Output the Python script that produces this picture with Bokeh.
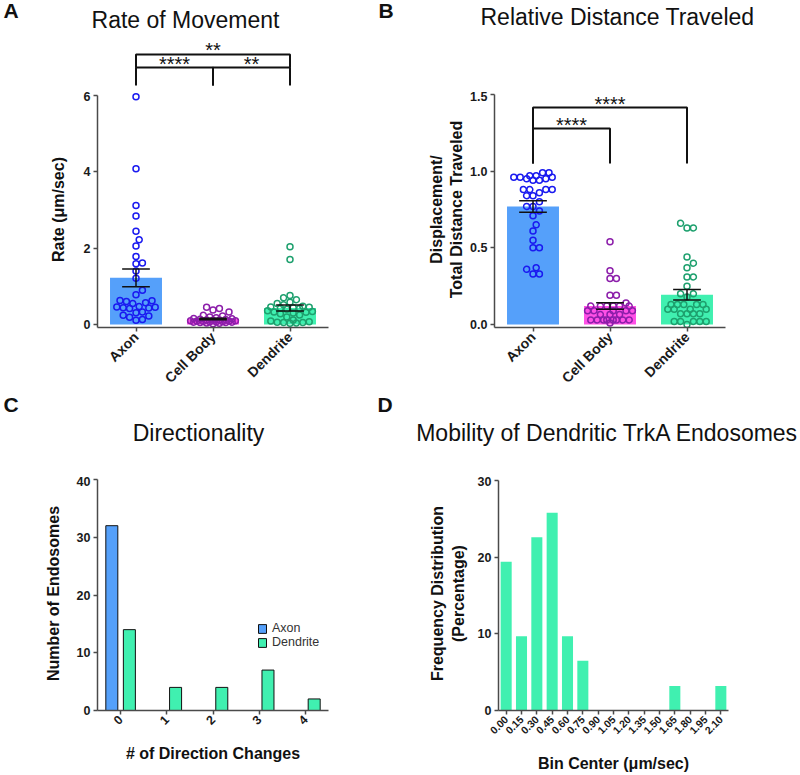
import math
import numpy as np
from bokeh.plotting import figure
from bokeh.layouts import row, column
from bokeh.models import (Range1d, FixedTicker, Label, Legend, LegendItem,
                          NumeralTickFormatter)
from bokeh.embed import file_html
from bokeh.resources import INLINE

FONT = "Liberation Sans"

# ------------------------------------------------------------------ data
groups = ["Axon", "Cell Body", "Dendrite"]

# Panel A: rate of movement (um/sec)
rate_axon = [5.97, 4.08, 3.12, 2.84, 2.44, 2.22, 2.06, 1.78, 1.61, 1.59, 1.40,
             1.21, 0.90, 0.78, 0.63, 0.62, 0.60, 0.57, 0.55, 0.47, 0.46, 0.45,
             0.44, 0.43, 0.42, 0.33, 0.31, 0.24, 0.22, 0.19, 0.13, 0.11]
rate_cell = [0.45, 0.42, 0.38, 0.33, 0.24, 0.22, 0.20, 0.18, 0.16, 0.15, 0.14,
             0.13, 0.12, 0.12, 0.11, 0.10, 0.10, 0.09, 0.09, 0.08, 0.08, 0.07,
             0.07, 0.06, 0.06, 0.05, 0.05, 0.04, 0.03, 0.02]
rate_dend = [0.07, 0.06, 0.05, 0.05, 0.04, 0.03, 0.09, 0.12, 0.20, 0.25, 0.28,
             0.30, 0.32, 0.33, 0.34, 0.36, 0.40, 0.42, 0.43, 0.44, 0.45, 0.46,
             0.48, 0.52, 0.55, 0.58, 0.65, 0.70, 0.76, 1.70, 2.04]

# Panel B: displacement / total distance traveled
rel_axon = [0.99, 0.99, 0.97, 0.96, 0.96, 0.95, 0.94, 0.94, 0.95, 0.96, 0.97,
            0.88, 0.88, 0.88, 0.88, 0.86, 0.84, 0.84, 0.80, 0.77, 0.77, 0.74,
            0.71, 0.65, 0.61, 0.55, 0.50, 0.50, 0.37, 0.36, 0.33, 0.33]
rel_cell = [0.54, 0.35, 0.30, 0.30, 0.19, 0.19, 0.14, 0.12, 0.12, 0.12, 0.12,
            0.12, 0.12, 0.09, 0.09, 0.09, 0.09, 0.09, 0.065, 0.065, 0.065,
            0.03, 0.03, 0.03, 0.03, 0.03, 0.03, 0.03, 0.03, 0.01]
rel_dend = [0.66, 0.63, 0.63, 0.44, 0.40, 0.37, 0.31, 0.31, 0.25, 0.20, 0.20,
            0.18, 0.13, 0.13, 0.13, 0.13, 0.13, 0.10, 0.10, 0.10, 0.10, 0.07,
            0.07, 0.07, 0.07, 0.02, 0.02, 0.02, 0.02, 0.02, 0.00]

# Significance comparisons: (group i, group j, stars, bar level, tip level)
sig_rate = [(0, 1, "****", 6.73, 6.26), (1, 2, "**", 6.73, 6.26),
            (0, 2, "**", 7.07, 6.73)]
sig_rel = [(0, 1, "****", 1.278, 1.05), (0, 2, "****", 1.415, 1.05)]

# Panel C: directionality
dir_changes = ["0", "1", "2", "3", "4"]
dir_axon = [32, 0, 0, 0, 0]
dir_dend = [14, 4, 4, 7, 2]

# Panel D: mobility histogram of dendritic endosomes
bin_centers = ["0.00", "0.15", "0.30", "0.45", "0.60", "0.75", "0.90", "1.05",
               "1.20", "1.35", "1.50", "1.65", "1.80", "1.95", "2.10"]
freq_pct = [19.4, 9.7, 22.6, 25.8, 9.7, 6.5, 0, 0, 0, 0, 0, 3.2, 0, 0, 3.2]

# ------------------------------------------------------------------ style
BAR_COLORS = ["#55A0FA", "#FF50E6", "#40F0B0"]
DOT_COLORS = ["#1A1AF0", "#8C1EAA", "#1EA06E"]
AXIS_COLOR = "#4a4a4a"


def make_fig(w, h, xr, yr, mbl, mbr, mbt, mbb):
    p = figure(width=w, height=h, x_range=Range1d(*xr), y_range=Range1d(*yr),
               output_backend="svg", toolbar_location=None,
               min_border_left=mbl, min_border_right=mbr,
               min_border_top=mbt, min_border_bottom=mbb)
    p.xgrid.visible = False
    p.ygrid.visible = False
    p.outline_line_color = None
    p.background_fill_color = "white"
    p.border_fill_color = "white"
    for ax in (p.xaxis[0], p.yaxis[0]):
        ax.axis_line_color = AXIS_COLOR
        ax.axis_line_width = 1.5
        ax.major_tick_line_color = AXIS_COLOR
        ax.major_tick_line_width = 1.5
        ax.major_tick_out = 4
        ax.major_tick_in = 0
        ax.minor_tick_out = 0
        ax.minor_tick_in = 0
        ax.major_label_standoff = 3
        ax.major_label_text_font = FONT
        ax.major_label_text_font_style = "bold"
        ax.major_label_text_color = "#1a1a1a"
        ax.major_label_text_font_size = "12.5px"
        ax.axis_label_text_font = FONT
        ax.axis_label_text_font_style = "bold"
        ax.axis_label_text_font_size = "16px"
        ax.axis_label_text_color = "#111111"
    return p


def make_strip(w, h, xr, yr):
    s = figure(width=w, height=h, x_range=Range1d(*xr), y_range=Range1d(*yr),
               output_backend="svg", toolbar_location=None,
               x_axis_location=None, y_axis_location=None,
               min_border_left=0, min_border_right=0,
               min_border_top=0, min_border_bottom=0)
    s.xgrid.visible = False
    s.ygrid.visible = False
    s.outline_line_color = None
    s.background_fill_color = "white"
    s.border_fill_color = "white"
    return s


def add_text(p, x, y, text, size, bold=False, align="center"):
    p.add_layout(Label(x=x, y=y, text=text, text_font=FONT,
                       text_font_size=size,
                       text_font_style="bold" if bold else "normal",
                       text_color="#111111", text_align=align,
                       text_baseline="middle"))


def swarm(vals, center, xpx, ypx, d=6.4, maxw=25.0):
    vals = np.asarray(vals, float)
    order = np.argsort(vals, kind="stable")
    steps = [0.0]
    k = 1
    while k * d * 0.5 <= maxw:
        steps += [k * d * 0.5, -k * d * 0.5]
        k += 1
    placed = []
    out = np.empty(len(vals))
    for i in order:
        sy = vals[i] * ypx
        best, bestd = 0.0, -1.0
        for c in steps:
            md = min((math.hypot(c - px, sy - py) for px, py in placed), default=1e9)
            if md >= d:
                best = c
                break
            if md > bestd:
                bestd, best = md, c
        placed.append((best, sy))
        out[i] = center + best / xpx
    return out


def dot_panel(p, bfig, series, xpx, ypx, sigs):
    centers = [i + 0.5 for i in range(len(groups))]
    means = [float(np.mean(s)) for s in series]
    sems = [float(np.std(s, ddof=1) / math.sqrt(len(s))) for s in series]
    p.vbar(x=centers, top=means, width=0.675, fill_color=BAR_COLORS,
           line_color=None)
    for i, s in enumerate(series):
        xs = swarm(s, centers[i], xpx, ypx)
        p.scatter(x=list(xs), y=list(s), marker="circle", size=6,
                  fill_color=None, line_color=DOT_COLORS[i], line_width=1.5)
    cap = 0.18
    lo = [m - e for m, e in zip(means, sems)]
    hi = [m + e for m, e in zip(means, sems)]
    x0 = centers + [c - cap for c in centers] * 2
    x1 = centers + [c + cap for c in centers] * 2
    y0 = lo + hi + lo
    y1 = hi + hi + lo
    p.segment(x0=x0, y0=y0, x1=x1, y1=y1, line_color="#111111", line_width=1.5)
    # significance brackets
    bx, by = [], []
    for i, j, stars, lvl, tip in sigs:
        bx.append([centers[i], centers[i], centers[j], centers[j]])
        by.append([tip, lvl, lvl, tip])
    bfig.multi_line(xs=bx, ys=by, line_color="#111111", line_width=2)
    for i, j, stars, lvl, tip in sigs:
        add_text(bfig, (centers[i] + centers[j]) / 2, lvl + 4 / ypx, stars, "20px")
    p.xaxis.ticker = FixedTicker(ticks=centers)
    p.xaxis.major_label_overrides = {c: g for c, g in zip(centers, groups)}
    p.xaxis.major_label_orientation = math.pi / 4
    p.xaxis.major_label_text_font_size = "14px"


# ------------------------------------------------------------------ panel A
A_XPX, A_YPX = 77.0, 38.333
sA = make_strip(400, 91, (-97 / A_XPX, 303 / A_XPX), (234 / A_YPX, 325 / A_YPX))
pA = make_fig(400, 303, (0, 3), (-3 / A_YPX, 234 / A_YPX), 97, 72, 0, 66)
dot_panel(pA, sA, [rate_axon, rate_cell, rate_dend], A_XPX, A_YPX, sig_rate)
pA.yaxis.bounds = (-3 / A_YPX, 6)
pA.yaxis.ticker = FixedTicker(ticks=[0, 2, 4, 6])
pA.yaxis.axis_label = "Rate (μm/sec)"
pA.yaxis.axis_label_standoff = 14
add_text(sA, 88 / A_XPX, 305.5 / A_YPX, "Rate of Movement", "23px")
add_text(sA, -94 / A_XPX, 315.5 / A_YPX, "A", "21px", bold=True, align="left")
add_text(sA, 281 / A_XPX, 315.5 / A_YPX, "B", "21px", bold=True, align="left")

# ------------------------------------------------------------------ panel B
B_XPX, B_YPX = 77.0, 153.33
sB = make_strip(400, 91, (-94 / B_XPX, 306 / B_XPX), (233 / B_YPX, 324 / B_YPX))
pB = make_fig(400, 303, (0, 3), (-3 / B_YPX, 233 / B_YPX), 94, 75, 0, 67)
dot_panel(pB, pB, [rel_axon, rel_cell, rel_dend], B_XPX, B_YPX, sig_rel)
pB.yaxis.bounds = (-3 / B_YPX, 1.5)
pB.yaxis.ticker = FixedTicker(ticks=[0, 0.5, 1.0, 1.5])
pB.yaxis.formatter = NumeralTickFormatter(format="0.0")
pB.yaxis.axis_label = "Displacement/\nTotal Distance Traveled"
pB.yaxis.axis_label_standoff = 2
add_text(sB, 123 / B_XPX, 307.5 / B_YPX, "Relative Distance Traveled", "23px")

# ------------------------------------------------------------------ panel C
C_XPX, C_YPX = 46.2, 5.775
sC = make_strip(400, 82, (-97 / C_XPX, 303 / C_XPX), (234 / C_YPX, 316 / C_YPX))
pC = make_fig(400, 299, (0, 5), (0, 234 / C_YPX), 97, 72, 0, 65)
cx = [i + 0.5 for i in range(len(dir_changes))]
ax_x = [c - 0.19 for c, v in zip(cx, dir_axon) if v > 0]
ax_t = [v for v in dir_axon if v > 0]
de_x = [c + 0.19 for c, v in zip(cx, dir_dend) if v > 0]
de_t = [v for v in dir_dend if v > 0]
rA = pC.vbar(x=ax_x, top=ax_t, width=0.26, fill_color=BAR_COLORS[0],
             line_color="#111111", line_width=1)
rD = pC.vbar(x=de_x, top=de_t, width=0.26, fill_color=BAR_COLORS[2],
             line_color="#111111", line_width=1)
pC.xaxis.ticker = FixedTicker(ticks=cx)
pC.xaxis.major_label_overrides = {c: t for c, t in zip(cx, dir_changes)}
pC.xaxis.major_label_orientation = math.pi / 4
pC.xaxis.axis_label = "# of Direction Changes"
pC.xaxis.axis_label_standoff = 13
pC.yaxis.bounds = (0, 40)
pC.yaxis.ticker = FixedTicker(ticks=[0, 10, 20, 30, 40])
pC.yaxis.axis_label = "Number of Endosomes"
pC.yaxis.axis_label_standoff = 12
legend = Legend(items=[LegendItem(label="Axon", renderers=[rA]),
                       LegendItem(label="Dendrite", renderers=[rD])],
                location=(160, 61), border_line_color=None,
                background_fill_alpha=0, padding=0, margin=0, spacing=0,
                glyph_width=10, glyph_height=11, label_height=11,
                label_standoff=5, label_text_font=FONT,
                label_text_font_size="12.5px", label_text_color="#333333")
pC.add_layout(legend)
add_text(sC, 101 / C_XPX, 278 / C_YPX, "Directionality", "23px")
add_text(sC, -94 / C_XPX, 306.5 / C_YPX, "C", "21px", bold=True, align="left")
add_text(sC, 280 / C_XPX, 306.5 / C_YPX, "D", "21px", bold=True, align="left")

# ------------------------------------------------------------------ panel D
D_XPX, D_YPX = 15.333, 7.667
sD = make_strip(400, 82, (-98 / D_XPX, 302 / D_XPX), (234 / D_YPX, 316 / D_YPX))
pD = make_fig(400, 299, (0, 15), (0, 234 / D_YPX), 98, 72, 0, 65)
dx = [i + 0.5 for i in range(len(bin_centers))]
pD.vbar(x=[c for c, v in zip(dx, freq_pct) if v > 0],
        top=[v for v in freq_pct if v > 0], width=0.72,
        fill_color=BAR_COLORS[2], line_color=None)
pD.xaxis.ticker = FixedTicker(ticks=dx)
pD.xaxis.major_label_overrides = {c: t for c, t in zip(dx, bin_centers)}
pD.xaxis.major_label_orientation = math.pi / 4
pD.xaxis.major_label_text_font_size = "10.5px"
pD.xaxis.axis_label = "Bin Center (μm/sec)"
pD.xaxis.axis_label_standoff = 14
pD.yaxis.bounds = (0, 30)
pD.yaxis.ticker = FixedTicker(ticks=[0, 10, 20, 30])
pD.yaxis.axis_label = "Frequency Distribution\n(Percentage)"
pD.yaxis.axis_label_standoff = 8
add_text(sD, 109 / D_XPX, 278 / D_YPX, "Mobility of Dendritic TrkA Endosomes", "23px")

layout = column(row(sA, sB), row(pA, pB), row(sC, sD), row(pC, pD))
open("out.html", "w").write(file_html(layout, INLINE))
